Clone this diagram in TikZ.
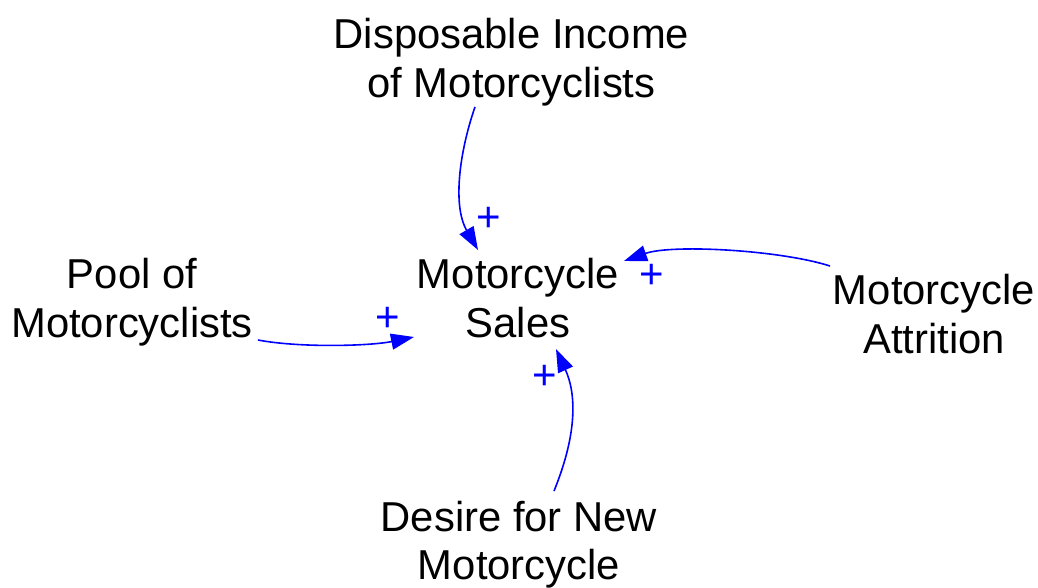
\documentclass[tikz,border=0pt]{standalone}
\usepackage{fontspec}
\setmainfont{Liberation Sans}
\usetikzlibrary{arrows.meta}

\definecolor{linkblue}{RGB}{0,0,255}

\tikzset{
  var/.style={align=center, inner sep=0pt, font=\fontsize{41.8}{48.5}\selectfont},
  link/.style={draw=linkblue, line width=1.6pt,
    -{Triangle[length=23pt,width=16pt]}, fill=none},
  polarity/.style={text=linkblue, inner sep=0pt, font=\fontsize{42}{48}\selectfont},
}

\begin{document}
\begin{tikzpicture}[x=1pt, y=-1pt]
  \useasboundingbox (0,0) rectangle (1038,588);

  % variables
  \node[var] (income)    at (511.5,62) {Disposable Income\\of Motorcyclists};
  \node[var] (sales)     at (518,298)  {Motorcycle\\Sales};
  \node[var] (pool)      at (132,302)  {Pool of\\Motorcyclists};
  \node[var] (attrition) at (934,314)  {Motorcycle\\Attrition};
  \node[var] (desire)    at (519,544.5) {Desire for New\\Motorcycle};

  % link end points
  \coordinate (incomeOut)    at (475,107);
  \coordinate (incomeIn)     at (478,250);
  \coordinate (poolOut)      at (258,340);
  \coordinate (poolIn)       at (414,337);
  \coordinate (attritionOut) at (830,266);
  \coordinate (attritionIn)  at (624,261);
  \coordinate (desireOut)    at (554,491);
  \coordinate (desireIn)     at (556,349);

  % causal links
  \draw[link] (incomeOut) .. controls (460,150) and (452,205) .. (incomeIn);
  \draw[link] (poolOut) .. controls (300,348) and (370,346) .. (poolIn);
  \draw[link] (attritionOut) .. controls (780,250) and (672,244) .. (attritionIn);
  \draw[link] (desireOut) .. controls (578,432) and (576,393) .. (desireIn);

  % link polarities
  \node[polarity] (pIncome)    at (489,219) {+};
  \node[polarity] (pPool)      at (388,319) {+};
  \node[polarity] (pAttrition) at (652,276) {+};
  \node[polarity] (pDesire)    at (545,377) {+};
\end{tikzpicture}
\end{document}
